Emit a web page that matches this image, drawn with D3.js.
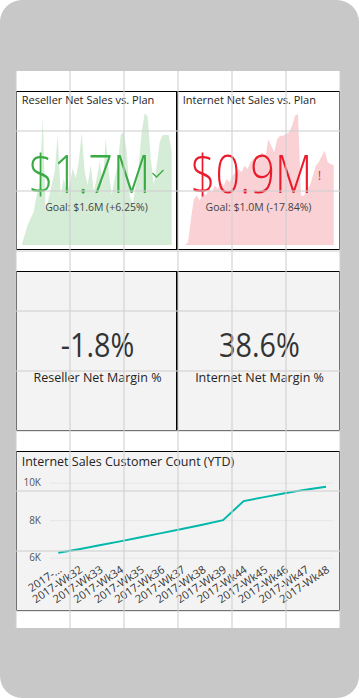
<!DOCTYPE html>
<html>
<head>
<meta charset="utf-8">
<script src="https://cdn.jsdelivr.net/npm/d3@7"></script>
<style>
  body { margin: 0; background: #fff; }
  svg { display: block; }
  text { font-family: "Segoe UI", "Open Sans", sans-serif; }
</style>
</head>
<body>
<svg id="chart"></svg>
<script>
// sparkline heights (relative units)
const resellerSpark = [0, 30, 60, 80, 100, 150, 180, 380, 100, 140, 180, 220, 330, 150, 200, 160, 180, 230, 200, 250,
  335, 220, 180, 240, 160, 200, 250, 180, 320, 220, 150, 200, 240, 330, 340, 280, 150, 120, 180, 240,
  340, 395, 385, 260, 180, 240, 310, 330, 330, 330, 280];
const internetSpark = [0, 8, 78, 138, 148, 133, 158, 148, 168, 158, 178, 168, 188, 178, 198, 188, 208, 218, 228, 218,
  238, 228, 248, 258, 248, 268, 278, 258, 318, 298, 278, 318, 328, 328, 333, 338, 358, 388, 393, 148,
  148, 168, 178, 208, 238, 248, 268, 283, 248, 243, 240];

const kpiCards = [
  {title: "Reseller Net Sales vs. Plan", value: "$1.7M", goal: "Goal: $1.6M (+6.25%)", status: "good"},
  {title: "Internet Net Sales vs. Plan", value: "$0.9M", goal: "Goal: $1.0M (-17.84%)", status: "bad"}
];
const marginValues = ["-1.8%", "38.6%"];
const marginLabels = ["Reseller Net Margin %", "Internet Net Margin %"];

const weeks = ["2017-...", "2017-Wk32", "2017-Wk33", "2017-Wk34", "2017-Wk35", "2017-Wk36", "2017-Wk37",
  "2017-Wk38", "2017-Wk39", "2017-Wk44", "2017-Wk45", "2017-Wk46", "2017-Wk47", "2017-Wk48"];
const customerCount = [6260, 6450, 6660, 6870, 7090, 7310, 7530, 7760, 8000, 9020, 9230, 9440, 9630, 9790];
const countTicks = [6000, 8000, 10000];

const W = 359, H = 698;
const svg = d3.select("#chart").attr("width", W).attr("height", H);

// phone frame + canvas
svg.append("rect").attr("width", W).attr("height", H).attr("rx", 22).attr("fill", "#c8c8c8");
svg.append("rect").attr("x", 16).attr("y", 71).attr("width", 324).attr("height", 557).attr("fill", "#fff");

const colW = 54, rowH = 60;
const cardBox = [
  {x: 16.5, y: 91.5, w: 160, h: 158, fill: "#fff"},
  {x: 177.5, y: 91.5, w: 162, h: 158, fill: "#fff"},
  {x: 16.5, y: 271.5, w: 160, h: 159, fill: "#f3f3f3"},
  {x: 177.5, y: 271.5, w: 162, h: 159, fill: "#f3f3f3"},
  {x: 16.5, y: 451.5, w: 323, h: 159, fill: "#f3f3f3"}
];
svg.selectAll("rect.card").data(cardBox).enter().append("rect")
  .attr("class", "card")
  .attr("x", d => d.x).attr("y", d => d.y)
  .attr("width", d => d.w).attr("height", d => d.h)
  .attr("fill", d => d.fill);

// ---- KPI cards with sparklines ----
const sparkColors = {good: {area: "#d5ecd7", text: "#3aaa45"}, bad: {area: "#fad1d4", text: "#ea1b2a"}};
const sparkData = [resellerSpark, internetSpark];
const sparkX = [[21.7, 171.7], [185, 333.7]];

kpiCards.forEach((c, i) => {
  const box = cardBox[i];
  const vals = sparkData[i];
  const x = d3.scaleLinear().domain([0, vals.length - 1]).range(sparkX[i]);
  const y = d3.scaleLinear().domain([0, 395]).range([245, 113.3]);
  const area = d3.area().x((d, j) => x(j)).y0(y(0)).y1(d => y(d));
  svg.append("path").datum(vals).attr("d", area).attr("fill", sparkColors[c.status].area);

  svg.append("text").attr("x", box.x + 5.2).attr("y", 104.3)
    .attr("font-size", 11).attr("fill", "#252423").text(c.title);

  const cx = box.x + box.w / 2;
  // narrow, light figures (DIN-like)
  svg.append("text")
    .attr("transform", `translate(${cx - 7},193.3) scale(0.8,1)`)
    .attr("text-anchor", "middle")
    .attr("font-family", "Roboto, sans-serif").attr("font-weight", 300)
    .attr("font-size", 54).attr("fill", sparkColors[c.status].text).text(c.value);

  if (c.status === "good") {
    svg.append("path").attr("d", `M${cx + 56},${173} l4,4 l7,-7`)
      .attr("fill", "none").attr("stroke", sparkColors.good.text).attr("stroke-width", 1.3);
  } else {
    svg.append("text").attr("x", cx + 61).attr("y", 180).attr("text-anchor", "middle")
      .attr("font-size", 12).attr("fill", sparkColors.bad.text).text("!");
  }

  svg.append("text").attr("x", cx).attr("y", 211).attr("text-anchor", "middle")
    .attr("font-size", 10.5).attr("fill", "#444").text(c.goal);
});

// ---- margin cards ----
marginValues.forEach((v, i) => {
  const box = cardBox[2 + i];
  const cx = box.x + box.w / 2 + 1;
  svg.append("text")
    .attr("transform", `translate(${cx},356.7) scale(0.9,1)`)
    .attr("text-anchor", "middle")
    .attr("font-family", "Roboto, sans-serif").attr("font-size", 32).attr("fill", "#333")
    .text(v);
  svg.append("text").attr("x", cx).attr("y", 382).attr("text-anchor", "middle")
    .attr("font-size", 12.5).attr("fill", "#252423").text(marginLabels[i]);
});

// ---- line chart ----
svg.append("text").attr("x", 21.7).attr("y", 466).attr("font-size", 12.5).attr("fill", "#252423")
  .text("Internet Sales Customer Count (YTD)");

const xScale = d3.scalePoint().domain(weeks).range([58.3, 326]);
const yScale = d3.scaleLinear().domain([6000, 10000]).range([557.7, 482.7]);

const yAxis = d3.axisLeft(yScale).tickValues(countTicks)
  .tickFormat(d => (d / 1000) + "K").tickSize(-283).tickPadding(9);
const yG = svg.append("g").attr("transform", "translate(50,0)").call(yAxis);
yG.select(".domain").remove();
yG.selectAll("line").attr("stroke", "#e6e6e6");
yG.selectAll("text").attr("font-size", 10).attr("fill", "#555")
  .attr("font-family", "\"Segoe UI\", \"Open Sans\", sans-serif");

const xAxis = d3.axisBottom(xScale).tickSize(0).tickPadding(0);
const xG = svg.append("g").attr("transform", "translate(0,564)").call(xAxis);
xG.select(".domain").remove();
xG.selectAll("text")
  .attr("font-size", 11).attr("fill", "#333")
  .attr("font-family", "\"Segoe UI\", \"Open Sans\", sans-serif")
  .attr("text-anchor", "end")
  .attr("dx", "-0.1em")
  .attr("dy", "0.75em")
  .attr("transform", "rotate(-34)");

const line = d3.line().x((d, i) => xScale(weeks[i])).y(d => yScale(d));
svg.append("path").datum(customerCount).attr("d", line)
  .attr("fill", "none").attr("stroke", "#01b8aa").attr("stroke-width", 2);

// card borders
svg.selectAll("rect.border").data(cardBox).enter().append("rect")
  .attr("x", d => d.x).attr("y", d => d.y)
  .attr("width", d => d.w).attr("height", d => d.h)
  .attr("fill", "none").attr("stroke", "#000").attr("stroke-width", 1);

// layout grid over everything
const grid = svg.append("g").attr("stroke", "#d0d0d0").attr("stroke-opacity", 0.55).attr("stroke-width", 2);
d3.range(0, 7).forEach(i => {
  grid.append("line").attr("x1", 16 + i * colW).attr("x2", 16 + i * colW).attr("y1", 71).attr("y2", 628);
});
d3.range(1, 10).forEach(j => {
  grid.append("line").attr("x1", 16).attr("x2", 340).attr("y1", 71 + j * rowH).attr("y2", 71 + j * rowH);
});
</script>
</body>
</html>
